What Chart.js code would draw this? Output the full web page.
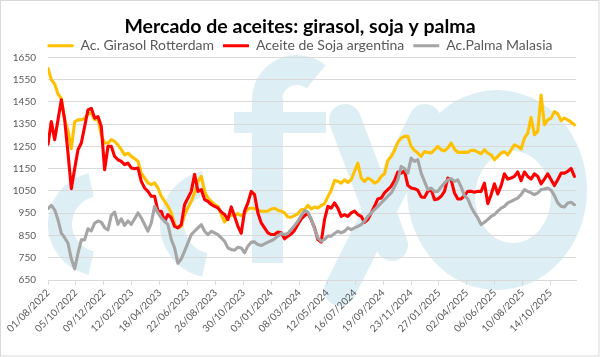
<!DOCTYPE html>
<html><head><meta charset="utf-8">
<script src="https://cdn.jsdelivr.net/npm/chart.js@4.4.1/dist/chart.umd.min.js"></script>
<style>html,body{margin:0;padding:0;background:#fff;}#wrap{width:600px;height:357px;position:relative;}</style>
</head><body><div id="wrap"><canvas id="c" width="600" height="357"></canvas></div>
<script>
const chartTitle = 'Mercado de aceites: girasol, soja y palma';
const seriesNames = ['Ac. Girasol Rotterdam', 'Aceite de Soja argentina', 'Ac.Palma Malasia'];
const xTickLabels = ['01/08/2022','05/10/2022','09/12/2022','12/02/2023','18/04/2023','22/06/2023','26/08/2023','30/10/2023','03/01/2024','08/03/2024','12/05/2024','16/07/2024','19/09/2024','23/11/2024','27/01/2025','02/04/2025','06/06/2025','10/08/2025','14/10/2025'];
const tickStepDays = 65;      // days between labelled ticks
const sampleStepDays = 7.755; // days between the readings below (from 01/08/2022)
const lastDay = 1229;
const yMin = 650, yMax = 1650, yStep = 100;

const girasol = [1600,1550,1530,1485,1465,1370,1320,1240,1360,1369,
 1370,1375,1395,1400,1370,1375,1300,1265,1265,1280,
 1272,1257,1235,1212,1220,1205,1195,1183,1130,1108,
 1086,1078,1086,1063,1026,1003,981,951,899,884,
 891,944,974,1003,1041,1093,1115,1048,1018,1003,
 989,981,945,910,929,944,939,948,939,948,
 969,973,971,963,959,959,960,969,972,963,
 959,951,933,932,939,948,966,966,985,969,
 978,973,984,993,1023,1053,1097,1093,1085,1100,
 1088,1100,1138,1175,1108,1093,1108,1100,1085,1093,
 1115,1127,1187,1205,1232,1268,1287,1295,1295,1250,
 1232,1220,1205,1227,1223,1220,1235,1250,1235,1230,
 1242,1265,1238,1223,1223,1224,1223,1232,1232,1224,
 1217,1235,1220,1212,1190,1205,1220,1226,1212,1235,
 1257,1250,1238,1287,1309,1380,1302,1317,1480,1347,
 1369,1377,1406,1396,1366,1377,1369,1359,1347];

const soja = [1260,1362,1280,1369,1459,1370,1220,1060,1150,1235,
 1265,1339,1414,1421,1377,1384,1339,1145,1250,1250,
 1205,1190,1183,1168,1175,1153,1150,1153,1093,1063,
 1048,1026,1026,959,959,914,944,929,891,884,
 899,989,1018,1048,1125,1048,1056,1011,1003,989,
 981,974,955,944,921,978,936,891,860,959,
 996,1048,1033,951,906,884,862,854,854,865,
 862,835,847,857,873,899,924,939,950,921,
 884,832,820,921,981,973,996,973,936,944,
 936,951,959,944,936,909,921,951,981,1014,
 1018,1041,1056,1071,1097,1135,1130,1140,1075,1063,
 1060,1053,1023,1021,1048,1056,1011,1014,1026,1048,
 1108,1100,1041,1014,1014,1029,1048,1048,1044,1048,
 1048,1085,993,1033,1082,1036,1074,1127,1103,1108,
 1115,1135,1096,1135,1115,1103,1127,1115,1082,1103,
 1127,1100,1074,1100,1130,1130,1138,1151,1115];

const palma = [970,985,965,920,860,840,815,745,700,770,
 830,830,880,870,905,915,910,885,875,940,
 955,900,925,895,915,900,925,951,929,899,
 869,906,981,951,929,914,899,832,794,725,
 745,780,817,854,869,884,899,869,854,869,
 862,854,839,824,794,787,784,797,794,772,
 802,820,821,809,805,812,820,826,835,847,
 859,854,859,877,894,914,939,962,955,924,
 879,839,824,832,847,847,859,869,862,869,
 884,876,884,891,899,914,936,951,966,981,
 996,1011,1026,1041,1068,1100,1160,1150,1130,1197,
 1183,1190,1130,1093,1056,1063,1048,1048,1068,1085,
 1100,1105,1093,1100,1068,1029,1014,978,951,929,
 899,909,921,936,944,959,973,981,996,1003,
 1011,1018,1033,1056,1048,1041,1033,1041,1056,1059,
 1063,1053,1029,996,981,978,996,999,988];

const colors = ['#FFC000', '#FF0000', '#A5A5A5'];
const FONT = 'Lato, "Open Sans", sans-serif';

function toPoints(arr) { return arr.map((v, i) => ({ x: i * sampleStepDays, y: v })); }

const bgPlugin = {
  id: 'bgmark',
  beforeDraw(chart) {
    const ctx = chart.ctx;
    ctx.save();
    ctx.fillStyle = '#ffffff';
    ctx.fillRect(0, 0, chart.width, chart.height);
    const wm = '#ddeff5';
    ctx.fillStyle = wm; ctx.strokeStyle = wm;
    // two arcs
    ctx.lineWidth = 24; ctx.lineCap = 'butt';
    ctx.beginPath(); ctx.arc(100, 224, 40, Math.PI * 0.57, Math.PI * 1.43); ctx.stroke();
    ctx.beginPath(); ctx.arc(214, 224, 42, Math.PI * 0.57, Math.PI * 1.43); ctx.stroke();
    // f
    ctx.fillRect(252, 98, 31, 165);
    ctx.fillRect(234, 112, 92, 21);
    ctx.lineWidth = 30;
    ctx.beginPath(); ctx.arc(297, 100, 30, Math.PI, Math.PI * 1.72); ctx.stroke();
    // y
    ctx.lineWidth = 32; ctx.lineCap = 'round';
    ctx.beginPath(); ctx.moveTo(345, 120); ctx.lineTo(392, 245); ctx.stroke();
    ctx.beginPath(); ctx.moveTo(425, 120); ctx.lineTo(340, 290); ctx.stroke();
    // o
    ctx.beginPath(); ctx.ellipse(497, 190, 90, 100, 0, 0, Math.PI * 2); ctx.fill();
    ctx.fillStyle = '#ffffff';
    ctx.beginPath(); ctx.ellipse(513, 197, 38, 46, 0, 0, Math.PI * 2); ctx.fill();
    ctx.restore();
  },
  afterDraw(chart) {
    const ctx = chart.ctx;
    ctx.save();
    ctx.strokeStyle = '#d9d9d9'; ctx.lineWidth = 1;
    ctx.strokeRect(0.5, 0.5, chart.width - 1.5, chart.height - 1.5);
    ctx.restore();
  }
};

new Chart(document.getElementById('c'), {
  type: 'line',
  data: {
    datasets: [
      { label: seriesNames[0], data: toPoints(girasol), borderColor: colors[0], backgroundColor: colors[0], order: 3 },
      { label: seriesNames[1], data: toPoints(soja), borderColor: colors[1], backgroundColor: colors[1], order: 2 },
      { label: seriesNames[2], data: toPoints(palma), borderColor: colors[2], backgroundColor: colors[2], order: 1 }
    ]
  },
  options: {
    responsive: false,
    animation: false,
    devicePixelRatio: 1,
    layout: { padding: { left: 0, right: 0, top: 0, bottom: 0 } },
    elements: {
      line: { borderWidth: 3.1, tension: 0, borderJoinStyle: 'round', borderCapStyle: 'round' },
      point: { radius: 0, hoverRadius: 0 }
    },
    plugins: {
      tooltip: { enabled: false },
      title: {
        display: true, text: chartTitle, color: '#000000',
        font: { family: FONT, size: 19.5, weight: 'bold', lineHeight: 1 },
        padding: { top: 17, bottom: -6.7 }
      },
      legend: {
        display: true, maxHeight: 27.5,
        labels: {
          color: '#595959', font: { family: FONT, size: 14 },
          boxWidth: 26, boxHeight: 3, padding: 9,
          sort: (a, b) => a.datasetIndex - b.datasetIndex,
          generateLabels(chart) {
            const items = Chart.defaults.plugins.legend.labels.generateLabels(chart);
            items.forEach(it => { it.lineWidth = 0; it.fillStyle = it.strokeStyle; });
            return items;
          }
        }
      }
    },
    scales: {
      x: {
        type: 'linear', min: 0, max: lastDay,
        afterBuildTicks: s => { s.ticks = xTickLabels.map((_, k) => ({ value: k * tickStepDays })); },
        afterFit: s => { s.height = 77; s.paddingRight = 24; },
        ticks: {
          autoSkip: false, maxRotation: 45, minRotation: 45, padding: 2,
          color: '#595959', font: { family: FONT, size: 10 },
          callback: (v, i) => xTickLabels[i]
        },
        grid: { drawOnChartArea: false, drawTicks: true, tickLength: 5, color: '#d9d9d9' },
        border: { display: true, color: '#d9d9d9' }
      },
      y: {
        min: yMin, max: yMax,
        afterFit: s => { s.width = 48; },
        ticks: { stepSize: yStep, padding: 12, color: '#595959', font: { family: FONT, size: 10 }, callback: v => String(v) },
        grid: { color: '#d9d9d9', drawTicks: false },
        border: { display: false }
      }
    }
  },
  plugins: [bgPlugin]
});
</script></body></html>
